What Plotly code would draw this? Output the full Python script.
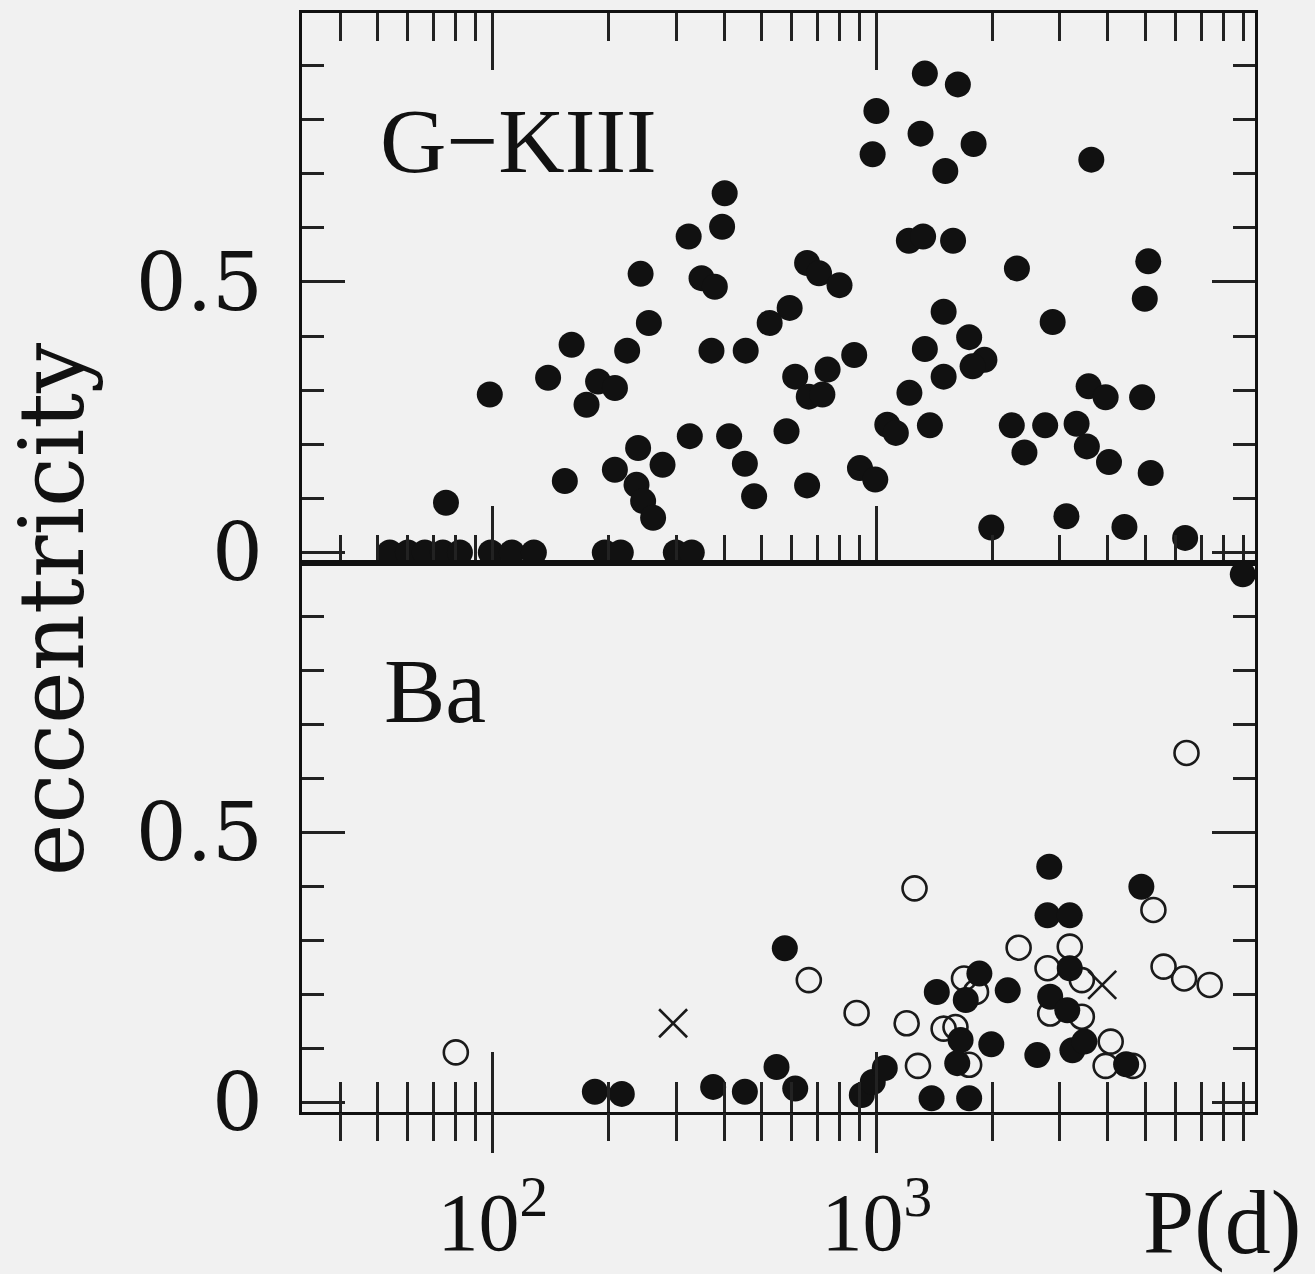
import plotly.graph_objects as go

# ---------------- data ----------------
# G-KIII giants (filled circles): orbital period P (days), eccentricity e
gk_P = [53.9, 60.1, 66.5, 74.1, 82.1, 98.8, 112.1, 127.9, 195.7, 215.4, 299.6, 329.7,
        75.5, 98.2, 139.3, 160.4, 175.4, 188, 208, 223.8, 254.9, 242.6, 323.6, 395.5,
        401.6, 349.6, 378.6, 371.1, 455.6, 593, 526, 613, 744.5, 665, 721.6, 658.4,
        707.2, 799.6, 873.3, 997.6, 975.2, 1334, 1626, 1300, 1787, 1508, 3620, 1212,
        1320, 1580, 2317, 5093, 4988, 1493, 2871, 1334, 1740, 1907, 1776, 1493, 1216,
        3562, 3944, 4909, 239, 325.8, 412.5, 582, 1065, 1121, 1375, 2247, 2745, 3314,
        2424, 3524, 4025, 5168, 207.9, 276.7, 453.3, 236.7, 246.3, 261.5, 154, 479.2,
        658.4, 904, 990.9, 1987, 3118, 4415, 6353]
gk_e = [0, 0, 0, 0, 0, 0, 0, 0, 0, 0, 0, 0,
        0.092, 0.292, 0.323, 0.384, 0.273, 0.316, 0.304, 0.373, 0.424, 0.515, 0.584, 0.602,
        0.664, 0.507, 0.491, 0.373, 0.373, 0.452, 0.424, 0.325, 0.338, 0.288, 0.292, 0.535,
        0.516, 0.494, 0.365, 0.816, 0.736, 0.885, 0.865, 0.774, 0.755, 0.705, 0.726, 0.576,
        0.584, 0.576, 0.525, 0.538, 0.469, 0.445, 0.426, 0.376, 0.398, 0.356, 0.344, 0.325, 0.295,
        0.307, 0.287, 0.287, 0.193, 0.215, 0.215, 0.224, 0.236, 0.221, 0.235, 0.235, 0.235, 0.238,
        0.185, 0.196, 0.167, 0.147, 0.153, 0.162, 0.164, 0.125, 0.095, 0.064, 0.132, 0.104,
        0.124, 0.156, 0.135, 0.046, 0.067, 0.047, 0.027]

# Ba stars, filled circles
baf_P = [184.4, 216.7, 374.8, 453.3, 548.1, 576, 613.2, 914, 976, 1049, 1389, 1740,
         1433, 1850, 1705, 1653, 1620, 1987, 2193, 2619, 2813, 2784, 3181, 4887, 3181,
         2829, 3134, 3232, 3472, 4460, 8979]
baf_e = [0.019, 0.015, 0.028, 0.019, 0.065, 0.285, 0.025, 0.013, 0.037, 0.063, 0.007, 0.007,
         0.204, 0.238, 0.189, 0.115, 0.072, 0.107, 0.207, 0.087, 0.436, 0.346, 0.346, 0.399, 0.248,
         0.195, 0.170, 0.096, 0.112, 0.070, 0.978]

# Ba stars, open circles
bao_P = [80.1, 665.2, 886, 1196, 1254, 1280, 1687, 1813, 1493, 1603, 1740, 2341, 3181,
         2784, 3420, 2829, 3420, 4066, 3944, 4645, 5253, 5583, 6315, 7362, 6406]
bao_e = [0.092, 0.226, 0.165, 0.146, 0.396, 0.067, 0.229, 0.204, 0.136, 0.139, 0.069, 0.286,
         0.288, 0.248, 0.226, 0.164, 0.158, 0.112, 0.067, 0.067, 0.356, 0.251, 0.229, 0.217, 0.647]

# Ba stars, crosses
bax_P = [294.8, 3864]
bax_e = [0.146, 0.217]

# ticks
x_major = [100, 1000]
x_major_text = ["10<sup>2</sup>", "10<sup>3</sup>"]
x_minor = [40, 50, 60, 70, 80, 90, 200, 300, 400, 500, 600, 700, 800, 900,
           2000, 3000, 4000, 5000, 6000, 7000, 8000, 9000]
y_major = [0, 0.5]
y_major_text = ["0", "0.5"]
y_minor = [0.1, 0.2, 0.3, 0.4, 0.6, 0.7, 0.8, 0.9]

# ---------------- figure ----------------
INK = "#111111"
TICK = "#222222"
BG = "#f1f1f1"

fig = go.Figure()
fig.add_trace(go.Scatter(x=gk_P, y=gk_e, mode="markers", xaxis="x", yaxis="y",
                         marker=dict(size=26, color=INK, line=dict(width=0)),
                         showlegend=False, cliponaxis=True))
fig.add_trace(go.Scatter(x=bao_P, y=bao_e, mode="markers", xaxis="x2", yaxis="y2",
                         marker=dict(symbol="circle-open", size=24, color="#1a1a1a",
                                     line=dict(width=2.6)),
                         showlegend=False, cliponaxis=False))
fig.add_trace(go.Scatter(x=baf_P, y=baf_e, mode="markers", xaxis="x2", yaxis="y2",
                         marker=dict(size=26, color=INK, line=dict(width=0)),
                         showlegend=False, cliponaxis=False))
fig.add_trace(go.Scatter(x=bax_P, y=bax_e, mode="markers", xaxis="x2", yaxis="y2",
                         marker=dict(symbol="x-thin-open", size=28, color="#1a1a1a",
                                     line=dict(width=2.6)),
                         showlegend=False, cliponaxis=False))
# helper trace so the overlay axis (outer halves of the crossing ticks) is drawn
fig.add_trace(go.Scatter(x=[], y=[], xaxis="x3", yaxis="y2", showlegend=False,
                         hoverinfo="skip"))

xr = [1.503, 3.985]
xbase = dict(type="log", range=xr, showgrid=False, zeroline=False, automargin=False,
             tickmode="array", tickvals=x_major, tickcolor=TICK, tickwidth=2.5)

yfont = dict(family="DejaVu Serif", size=80, color=INK)
ybase = dict(showgrid=False, zeroline=False, showline=True, linecolor=INK, linewidth=3,
             automargin=False,
             tickmode="array", tickvals=y_major, ticktext=y_major_text,
             ticks="inside", ticklen=43, tickwidth=2.5, tickcolor=TICK,
             mirror="ticks", tickfont=yfont, ticklabelstandoff=20,
             minor=dict(tickmode="array", tickvals=y_minor, ticks="inside",
                        ticklen=22, tickwidth=2.5, tickcolor=TICK, showgrid=False))

fig.update_layout(
    width=1315, height=1274,
    margin=dict(l=302, r=60, t=13, b=162),
    paper_bgcolor=BG, plot_bgcolor=BG,
    showlegend=False,
    xaxis=dict(**xbase, domain=[0, 1], anchor="y", showline=True, linecolor=INK,
               linewidth=3, mirror="ticks", ticks="inside", ticklen=57,
               showticklabels=False,
               minor=dict(tickmode="array", tickvals=x_minor, ticks="inside",
                          ticklen=28, tickwidth=2.5, tickcolor=TICK, showgrid=False)),
    xaxis2=dict(**xbase, domain=[0, 1], anchor="y2", showline=True, linecolor=INK,
                linewidth=3, mirror=True, ticks="inside", ticklen=60,
                ticktext=x_major_text, showticklabels=True,
                tickfont=dict(family="Liberation Serif", size=82, color=INK),
                ticklabelstandoff=37,
                minor=dict(tickmode="array", tickvals=x_minor, ticks="inside",
                           ticklen=30, tickwidth=2.5, tickcolor=TICK, showgrid=False)),
    xaxis3=dict(**xbase, overlaying="x2", anchor="y2", side="bottom", showline=False,
                ticks="outside", ticklen=40, showticklabels=False,
                minor=dict(tickmode="array", tickvals=x_minor, ticks="outside",
                           ticklen=28, tickwidth=2.5, tickcolor=TICK, showgrid=False)),
    yaxis=dict(**ybase, domain=[0.5, 1], anchor="x", range=[-0.0185, 0.997]),
    yaxis2=dict(**ybase, domain=[0, 0.5], anchor="x2", range=[-0.0185, 1.0]),
)

serif = "Liberation Serif"
fig.add_annotation(text="G\u2212KIII", xref="paper", yref="paper", x=0.2277, y=0.8835,
                   xanchor="center", yanchor="middle", showarrow=False,
                   font=dict(family=serif, size=92, color=INK))
fig.add_annotation(text="Ba", xref="paper", yref="paper", x=0.1396, y=0.383,
                   xanchor="center", yanchor="middle", showarrow=False,
                   font=dict(family=serif, size=92, color=INK))
fig.add_annotation(text="P(d)", xref="paper", yref="paper", x=0.9654, y=-0.1005,
                   xanchor="center", yanchor="middle", showarrow=False,
                   font=dict(family=serif, size=92, color=INK))
fig.add_annotation(text="eccentricity", xref="paper", yref="paper", x=-0.2623, y=0.4575,
                   xanchor="center", yanchor="middle", showarrow=False, textangle=-90,
                   font=dict(family="DejaVu Serif", size=89, color=INK))

fig.write_html("out.html", config={"displayModeBar": False},
               post_script="document.body.style.margin='0px';"
                           "document.body.style.overflow='hidden';"
                           "document.documentElement.style.background='%s';" % BG)
